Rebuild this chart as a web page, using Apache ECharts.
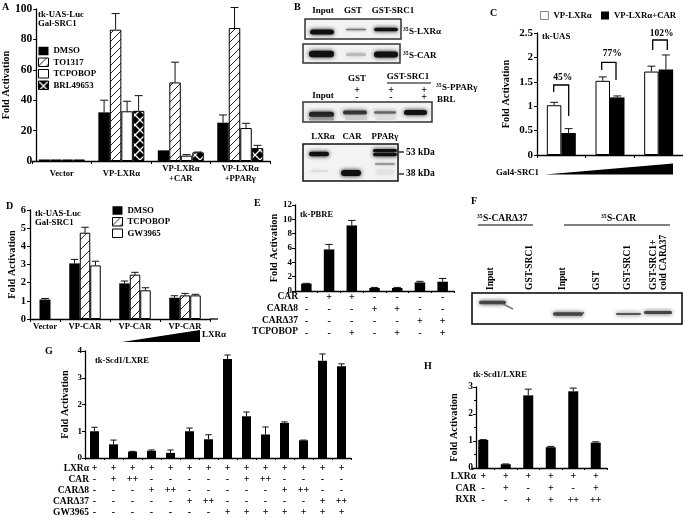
<!DOCTYPE html>
<html>
<head>
<meta charset="utf-8">
<script src="https://cdn.jsdelivr.net/npm/echarts@6/dist/echarts.min.js"></script>
<style>html,body{margin:0;padding:0;background:#fff}#c{width:683px;height:518px;filter:blur(0.4px)}</style>
</head>
<body>
<div id="c"></div>
<script>
// ---------- Panel A ----------
const aCats = ['Vector', 'VP-LXRα', 'VP-LXRα\n+CAR', 'VP-LXRα\n+PPARγ'];
const aDMSO = [1, 32, 7, 25.2];
const aDMSOTop = [1, 40, 7, 30.3];
const aTO1317 = [1, 86.4, 51.7, 87.5];
const aTO1317Top = [1, 97, 65, 101];
const aTCPOBOP = [1, 32.7, 3.5, 21.7];
const aTCPOBOPTop = [1, 39.3, 4.2, 24.8];
const aBRL = [1, 33, 5.7, 8.5];
const aBRLTop = [1, 43, 5.9, 10.3];
// ---------- Panel C ----------
const cCats = ['', '', ''];
const cLXR = [1.02, 1.52, 1.71];
const cLXRTop = [1.08, 1.6, 1.82];
const cLXRCAR = [0.45, 1.18, 1.75];
const cLXRCARTop = [0.54, 1.21, 2.05];
// ---------- Panel D ----------
const dVector = [1.07];
const dVectorTop = [1.13];
const dCats = ['VP-CAR', 'VP-CAR', 'VP-CAR'];
const dDMSO = [3.06, 1.96, 1.17];
const dDMSOTop = [3.28, 2.09, 1.28];
const dTCPOBOP = [4.75, 2.44, 1.3];
const dTCPOBOPTop = [5.05, 2.57, 1.41];
const dGW = [2.95, 1.58, 1.3];
const dGWTop = [3.18, 1.72, 1.36];
// ---------- Panel E ----------
const eVals = [1.03, 5.8, 9.15, 0.42, 0.42, 1.2, 1.3];
const eTops = [1.07, 6.5, 9.85, 0.5, 0.5, 1.35, 1.75];
const eCAR = ['-', '+', '+', '-', '-', '-', '-'];
const eCAR8 = ['-', '-', '-', '+', '+', '-', '-'];
const eCAR37 = ['-', '-', '-', '-', '-', '+', '+'];
const eTCP = ['-', '-', '+', '-', '+', '-', '+'];
// ---------- Panel G ----------
const gVals = [1.0, 0.51, 0.24, 0.27, 0.19, 1.0, 0.7, 3.7, 1.56, 0.88, 1.31, 0.66, 3.64, 3.43];
const gTops = [1.15, 0.67, 0.25, 0.3, 0.3, 1.12, 0.87, 3.85, 1.72, 1.16, 1.35, 0.67, 3.89, 3.52];
const gLXR = ['+', '+', '+', '+', '+', '+', '+', '+', '+', '+', '+', '+', '+', '+'];
const gCAR = ['-', '+', '++', '-', '-', '-', '-', '-', '+', '++', '-', '-', '-', '-'];
const gCAR8 = ['-', '-', '-', '+', '++', '-', '-', '-', '-', '-', '+', '++', '-', '-'];
const gCAR37 = ['-', '-', '-', '-', '-', '+', '++', '-', '-', '-', '-', '-', '+', '++'];
const gGW = ['-', '-', '-', '-', '-', '-', '-', '+', '+', '+', '+', '+', '+', '+'];
// ---------- Panel H ----------
const hVals = [1.04, 0.14, 2.69, 0.77, 2.84, 0.94];
const hTops = [1.05, 0.15, 2.92, 0.8, 2.96, 0.97];
const hLXR = ['+', '+', '+', '+', '+', '+'];
const hCAR = ['-', '+', '-', '+', '-', '+'];
const hRXR = ['-', '-', '+', '+', '++', '++'];

const SERIF = '"Liberation Serif","DejaVu Serif",serif';
const rowCats = (...rows) => rows[0].map((_, i) => rows.map(r => r[i]).join('\n'));

function tile(size, draw) {
  const c = document.createElement('canvas');
  c.width = c.height = size;
  draw(c.getContext('2d'), size);
  return { image: c, repeat: 'repeat' };
}
function hatch(size) {
  return tile(size, (g, s) => {
    g.fillStyle = '#fff'; g.fillRect(0, 0, s, s);
    g.strokeStyle = '#222'; g.lineWidth = 1;
    g.beginPath();
    g.moveTo(-1, 1); g.lineTo(1, -1);
    g.moveTo(0, s); g.lineTo(s, 0);
    g.moveTo(s - 1, s + 1); g.lineTo(s + 1, s - 1);
    g.stroke();
  });
}
const HATCH_A = hatch(8), HATCH_D = hatch(10);
const CHECK = tile(10, (g, s) => {
  g.fillStyle = '#000'; g.fillRect(0, 0, s, s);
  g.strokeStyle = '#fff'; g.lineWidth = 1.3;
  g.beginPath();
  g.moveTo(0, 0); g.lineTo(s, s);
  g.moveTo(0, s); g.lineTo(s, 0);
  g.stroke();
});

const grids = [], xAxes = [], yAxes = [], series = [];

function panel(o) {
  const gi = grids.length;
  grids.push({ left: o.left, top: o.top, width: o.width, height: o.height, containLabel: false });
  xAxes.push({
    type: 'category', gridIndex: gi, data: o.cats,
    axisLine: { lineStyle: { color: '#000', width: o.xw || 1.3 } },
    axisTick: { show: true, length: o.tickLen || 3, lineStyle: { color: '#000', width: 1 } },
    axisLabel: {
      interval: 0, color: '#000', fontFamily: SERIF, fontWeight: 'bold',
      fontSize: o.catSize || 8.6, margin: o.catMargin == null ? 5 : o.catMargin,
      lineHeight: o.catLine || 10, verticalAlign: o.catAlign || 'top', hideOverlap: false
    }
  });
  yAxes.push({
    type: 'value', gridIndex: gi, min: 0, max: o.max, interval: o.step,
    show: o.hideY ? false : true, offset: o.yOffset || 0,
    splitLine: { show: false },
    axisLine: { show: true, lineStyle: { color: '#000', width: 1.3 } },
    axisTick: { show: true, length: 3, lineStyle: { color: '#000', width: 1 } },
    minorTick: { show: !!o.minor, splitNumber: 2, length: 2, lineStyle: { color: '#000' } },
    axisLabel: { color: '#000', fontFamily: SERIF, fontWeight: 'bold', fontSize: o.valSize || 10, margin: o.valMargin || 4 },
    name: o.hideY ? '' : 'Fold Activation', nameLocation: 'middle', nameRotate: 90, nameGap: o.nameGap,
    nameTextStyle: { color: '#000', fontFamily: SERIF, fontWeight: 'bold', fontSize: 10.3 }
  });
  return gi;
}

function bars(gi, barW, list) {
  list.forEach(b => {
    series.push({
      type: 'bar', name: b.name, xAxisIndex: gi, yAxisIndex: gi, data: b.data,
      barWidth: barW, barGap: 0, animation: false, silent: true,
      itemStyle: { color: b.fill || '#000', borderColor: '#000', borderWidth: b.fill ? 1 : 0 }
    });
  });
  const n = list.length, rows = [];
  list.forEach((b, si) => b.data.forEach((v, i) => {
    if (b.tops[i] > v) rows.push([i, si - (n - 1) / 2, v, b.tops[i]]);
  }));
  series.push({
    type: 'custom', xAxisIndex: gi, yAxisIndex: gi, data: rows, silent: true, animation: false,
    encode: { x: 0, y: 3 }, z: 5,
    renderItem(params, api) {
      const off = api.value(1) * barW;
      const p0 = api.coord([api.value(0), api.value(2)]);
      const p1 = api.coord([api.value(0), api.value(3)]);
      const x = p0[0] + off, cap = Math.min(barW * 0.35, 4);
      const st = { stroke: '#111', lineWidth: 1, fill: null };
      return {
        type: 'group', children: [
          { type: 'line', shape: { x1: x, y1: p0[1], x2: x, y2: p1[1] }, style: st },
          { type: 'line', shape: { x1: x - cap, y1: p1[1], x2: x + cap, y2: p1[1] }, style: st }
        ]
      };
    }
  });
}

// A
let g = panel({ left: 30, top: 9, width: 240, height: 152, cats: aCats, max: 100, step: 20, yOffset: -4, valSize: 11.5, nameGap: 24, catMargin: 13, catAlign: 'middle', catLine: 10 });
bars(g, 11.5, [
  { name: 'DMSO', data: aDMSO, tops: aDMSOTop },
  { name: 'TO1317', data: aTO1317, tops: aTO1317Top, fill: HATCH_A },
  { name: 'TCPOBOP', data: aTCPOBOP, tops: aTCPOBOPTop, fill: '#fff' },
  { name: 'BRL49653', data: aBRL, tops: aBRLTop, fill: CHECK }
]);
// C
g = panel({ left: 537, top: 33, width: 146, height: 122, cats: cCats, max: 2.5, step: 0.5, valSize: 11, nameGap: 26 });
bars(g, 14.5, [
  { name: 'VP-LXRα', data: cLXR, tops: cLXRTop, fill: '#fff' },
  { name: 'VP-LXRα+CAR', data: cLXRCAR, tops: cLXRCARTop }
]);
// D: the Vector bar sits in its own narrow slot
g = panel({ left: 30, top: 210, width: 30, height: 109, cats: ['Vector'], max: 6, step: 1, valSize: 10.5, nameGap: 12, catMargin: 3, catSize: 8.6 });
bars(g, 11, [{ name: 'DMSO', data: dVector, tops: dVectorTop }]);
g = panel({ left: 60, top: 210, width: 150, height: 109, cats: dCats, max: 6, step: 1, hideY: true, catMargin: 3, catSize: 8.6 });
bars(g, 10.5, [
  { name: 'DMSO', data: dDMSO, tops: dDMSOTop },
  { name: 'TCPOBOP', data: dTCPOBOP, tops: dTCPOBOPTop, fill: HATCH_D },
  { name: 'GW3965', data: dGW, tops: dGWTop, fill: '#fff' }
]);
// E
g = panel({ left: 295, top: 205, width: 159, height: 86, cats: rowCats(eCAR, eCAR8, eCAR37, eTCP), max: 12, step: 2, valSize: 9, nameGap: 15, catMargin: 1, catSize: 10, catLine: 11.7, tickLen: 2, valMargin: 3 });
bars(g, 10.5, [{ name: 'E', data: eVals, tops: eTops }]);
// G
g = panel({ left: 85, top: 351, width: 266, height: 107, cats: rowCats(gLXR, gCAR, gCAR8, gCAR37, gGW), max: 4, step: 1, valSize: 9, nameGap: 15, catMargin: 5, catSize: 10, catLine: 11, tickLen: 2, valMargin: 3 });
bars(g, 9, [{ name: 'G', data: gVals, tops: gTops }]);
// H
g = panel({ left: 472, top: 387, width: 135, height: 81, cats: rowCats(hLXR, hCAR, hRXR), max: 3, step: 1, yOffset: -4, minor: true, valSize: 9.5, nameGap: 17, catMargin: 3, catSize: 10, catLine: 11.7, tickLen: 2, valMargin: 3 });
bars(g, 10, [{ name: 'H', data: hVals, tops: hTops }]);

const legendText = { color: '#000', fontFamily: SERIF, fontWeight: 'bold', fontSize: 8.8 };
const legends = [
  { left: 38, top: 46.5, orient: 'vertical', itemWidth: 10, itemHeight: 8.5, itemGap: 2, selectedMode: false, padding: 0, textStyle: legendText,
    data: ['DMSO', 'TO1317', 'TCPOBOP', 'BRL49653'].map(n => ({ name: n, icon: 'rect', itemStyle: n === 'DMSO' ? { borderWidth: 0 } : { borderColor: '#000', borderWidth: 1 } })) },
  { left: 540, top: 11, itemWidth: 8, itemHeight: 8, selectedMode: false, padding: 0, textStyle: legendText,
    data: [{ name: 'VP-LXRα', icon: 'rect', itemStyle: { color: '#fff', borderColor: '#888', borderWidth: 1 } }] },
  { left: 601, top: 11, itemWidth: 8, itemHeight: 8, selectedMode: false, padding: 0, textStyle: legendText,
    data: [{ name: 'VP-LXRα+CAR', icon: 'rect', itemStyle: { color: '#000', borderWidth: 0 } }] },
  { left: 112, top: 206, orient: 'vertical', itemWidth: 10, itemHeight: 8.5, itemGap: 2, selectedMode: false, padding: 0, textStyle: legendText,
    data: [{ name: 'DMSO', icon: 'rect', itemStyle: { color: '#000', borderWidth: 0 } }, { name: 'TCPOBOP', icon: 'rect', itemStyle: { color: HATCH_A, borderColor: '#000', borderWidth: 1 } }, { name: 'GW3965', icon: 'rect', itemStyle: { color: '#fff', borderColor: '#000', borderWidth: 1 } }] }
];

// ---------- annotations and blots ----------
const gfx = [];
const FONT = (s) => `bold ${s}px ${SERIF}`;
function T(x, y, text, o = {}) {
  gfx.push({ type: 'text', x, y, rotation: o.rot || 0, silent: true, z: 20,
    style: { text, font: FONT(o.size || 8.8), fill: '#000', textAlign: o.align || 'left', textVerticalAlign: 'middle', lineHeight: o.lh } });
}
function SUP(x, y, text, o = {}) { T(x, y - 2, '35', { size: 5.5 }); T(x + 6, y, text, o); }
function L(x1, y1, x2, y2, w = 1, c = '#000') {
  gfx.push({ type: 'line', silent: true, z: 20, shape: { x1, y1, x2, y2 }, style: { stroke: c, lineWidth: w } });
}
function PL(points, w = 1.3) {
  gfx.push({ type: 'polyline', silent: true, z: 20, shape: { points }, style: { stroke: '#000', lineWidth: w, fill: null } });
}
function TRI(points) {
  gfx.push({ type: 'polygon', silent: true, z: 20, shape: { points }, style: { fill: '#000' } });
}
function BOX(x1, y1, x2, y2, stroke = '#333', fill = '#f3f3f3') {
  gfx.push({ type: 'rect', silent: true, z: 10, shape: { x: x1, y: y1, width: x2 - x1, height: y2 - y1 }, style: { fill, stroke, lineWidth: 1.5 } });
}
function BAND(x1, yc, x2, h, shade = '#111', blur = 4) {
  gfx.push({ type: 'rect', silent: true, z: 12, shape: { x: x1, y: yc - h / 2, width: x2 - x1, height: h, r: h / 2 }, style: { fill: shade, shadowBlur: blur, shadowColor: shade } });
}
// panel letters
T(2, 7, 'A', { size: 10 }); T(294, 7, 'B', { size: 10 }); T(490, 13, 'C', { size: 10 }); T(6, 206, 'D', { size: 10 });
T(254, 203, 'E', { size: 10 }); T(471, 201, 'F', { size: 10 }); T(45, 351, 'G', { size: 10 }); T(424, 366, 'H', { size: 10 });
// A
T(38, 15, 'tk-UAS-Luc'); T(38, 24, 'Gal-SRC1');
// C
T(542, 37, 'tk-UAS');
T(496, 173, 'Gal4-SRC1');
TRI([[545, 174.5], [673, 163.5], [673, 174.5]]);
PL([[553.7, 92], [553.7, 85], [568.7, 85], [568.7, 116]]);
PL([[601.7, 70], [601.7, 62.3], [616, 62.3], [616, 80]]);
PL([[652.7, 50], [652.7, 40], [667.3, 40], [667.3, 50]]);
T(562.7, 78, '45%', { align: 'center', size: 9.5 });
T(612.3, 54, '77%', { align: 'center', size: 9.5 });
T(661.7, 34, '102%', { align: 'center', size: 9.5 });
// D
T(35, 214, 'tk-UAS-Luc'); T(35, 223, 'Gal-SRC1');
L(210, 319, 218, 319, 1.3);
T(202, 335, 'LXRα', { size: 9 });
TRI([[122, 342], [200, 330], [200, 342]]);
// E
T(300, 215, 'tk-PBRE', { size: 8.5 });
[['CAR', 296.7], ['CARΔ8', 308.4], ['CARΔ37', 320.1], ['TCPOBOP', 331.8]].forEach(r => T(298, r[1], r[0], { align: 'right', size: 9.5 }));
// G
T(95, 361, 'tk-Scd1/LXRE', { size: 8.5 });
[['LXRα', 469], ['CAR', 480], ['CARΔ8', 491], ['CARΔ37', 502], ['GW3965', 513]].forEach(r => T(89, r[1], r[0], { align: 'right', size: 9.5 }));
// H
T(473, 375, 'tk-Scd1/LXRE', { size: 8.5 });
[['LXRα', 477], ['CAR', 488.5], ['RXR', 500]].forEach(r => T(476, r[1], r[0], { align: 'right', size: 9.5 }));
// B
[['Input', 323], ['GST', 353], ['GST-SRC1', 393]].forEach(r => T(r[1], 10.5, r[0], { align: 'center', size: 9 }));
BOX(305, 19, 401, 39);
BAND(310, 32, 334, 5); BAND(346, 29.5, 366, 1.5, '#777', 3); BAND(374, 29.5, 398, 3.5);
SUP(403, 32, 'S-LXRα', { size: 9 });
BOX(303, 44, 400, 63);
BAND(309, 54, 334, 6.5); BAND(346, 54.5, 366, 3, '#bbb', 4); BAND(374, 54.5, 398, 6);
SUP(403, 56, 'S-CAR', { size: 9 });
T(357, 79, 'GST', { align: 'center', size: 9 });
T(408, 77, 'GST-SRC1', { align: 'center', size: 9 });
L(387, 83, 431, 83);
[[357, '+'], [391, '+'], [424, '+']].forEach(r => T(r[0], 90.5, r[1], { align: 'center', size: 10 }));
[[357, '-'], [391, '-'], [424, '+']].forEach(r => T(r[0], 97, r[1], { align: 'center', size: 10 }));
T(323, 96, 'Input', { align: 'center', size: 9 });
SUP(436, 88, 'S-PPARγ', { size: 9 });
T(437, 100, 'BRL', { size: 9 });
BOX(303, 102, 432, 122);
BAND(309, 114.5, 334, 5.5, '#222'); BAND(309, 119, 334, 2.5, '#999', 3);
BAND(343, 112.5, 367, 4, '#333'); BAND(345, 118, 367, 4, '#ccc', 3);
BAND(374, 112.5, 396, 2.5, '#666'); BAND(376, 118, 396, 4, '#ddd', 3);
BAND(404, 112.5, 427, 5, '#111');
[['LXRα', 323], ['CAR', 352], ['PPARγ', 385]].forEach(r => T(r[1], 137, r[0], { align: 'center', size: 8.8 }));
BOX(303, 144, 398, 181, '#111');
BAND(309, 154, 329, 4.5, '#111'); BAND(311, 171, 328, 2, '#ddd', 3);
BAND(341, 173, 361, 6, '#111');
BAND(373, 150.5, 397, 3, '#111'); BAND(373, 154.5, 397, 3.5, '#111');
BAND(375, 164, 395, 1.5, '#888', 3); BAND(376, 172, 394, 6, '#e2e2e2', 3);
L(399, 152, 404, 152, 1.2); L(399, 174, 404, 174, 1.2);
T(406, 152.5, '53 kDa', { size: 9.5 }); T(406, 174, '38 kDa', { size: 9.5 });
// F
SUP(477, 219, 'S-CARΔ37', { size: 9.5 });
L(478, 225, 533, 225);
SUP(601, 218.5, 'S-CAR', { size: 9.5 });
L(564, 225, 670, 225);
[[491, 'Input'], [530, 'GST-SRC1'], [563, 'Input'], [597, 'GST'], [628, 'GST-SRC1']].forEach(r => T(r[0], 290, r[1], { rot: Math.PI / 2, size: 9.5 }));
T(654, 290, 'GST-SRC1+', { rot: Math.PI / 2, size: 9.5 });
T(664, 290, 'cold CARΔ37', { rot: Math.PI / 2, size: 9.5 });
BOX(472, 293, 682, 324, '#000', '#fff');
BAND(479, 302.5, 506, 3.5, '#444'); L(503, 304, 513, 309, 1.5, '#777');
BAND(553, 314, 583, 3.5, '#444'); L(580, 316, 584, 312, 1.5, '#555');
BAND(616, 314, 641, 2, '#555'); BAND(644, 312.5, 672, 3, '#444');

const chart = echarts.init(document.getElementById('c'), null, { renderer: 'canvas' });
chart.setOption({
  animation: false, backgroundColor: '#fff', tooltip: { show: false },
  grid: grids, xAxis: xAxes, yAxis: yAxes, series, legend: legends, graphic: { elements: gfx }
});
</script>
</body>
</html>
